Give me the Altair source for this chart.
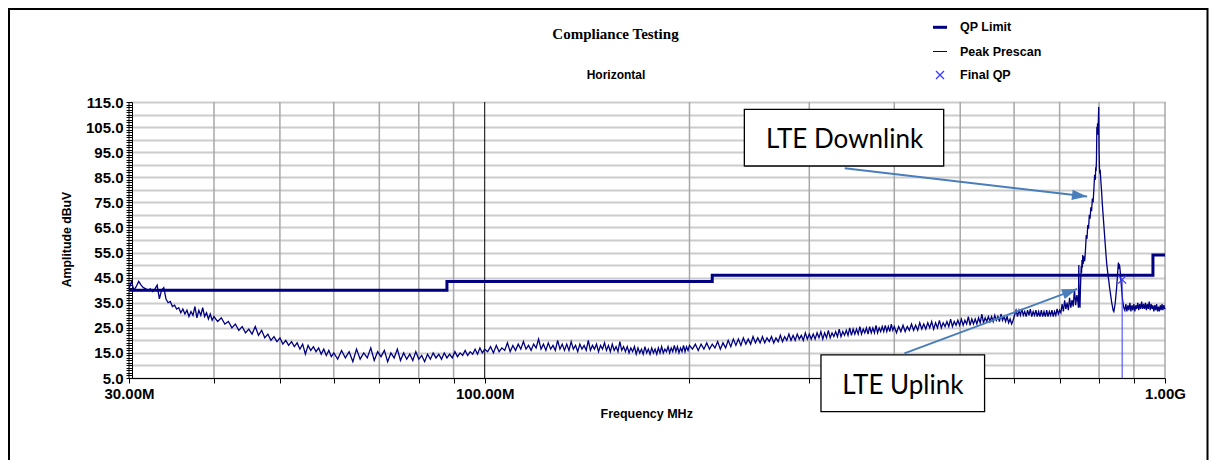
import altair as alt
import pandas as pd

# ---------------- data ----------------
# QP limit (step after each frequency), MHz / dBuV
limit_freq = [30, 88, 216, 960, 1000]
limit_level = [40.0, 43.5, 46.0, 54.0, 54.0]

# Peak prescan sweep, stored per sweep segment: start MHz, step MHz, readings dBuV
seg_a_start, seg_a_step = 30.0, 0.25
seg_a = [40.5, 43.5, 40.0, 41.5, 43.5, 42.0, 41.0, 40.5, 40.0, 40.5,
         39.5, 40.5, 42.0, 36.5, 40.0, 41.0, 36.5, 35.0, 35.5, 33.5,
         34.0, 32.5, 33.0, 31.0, 32.5, 30.5, 32.0, 29.5, 31.5, 30.0,
         33.5, 29.0, 32.0, 30.0, 33.0, 29.5, 31.0, 28.5, 30.5, 28.0,
         29.5]
seg_b_start, seg_b_step = 40.5, 0.5
seg_b = [27.5, 29.0, 26.5, 27.5, 25.0, 26.5, 24.0, 25.5, 23.0, 24.5,
         22.5, 25.5, 22.0, 24.0, 21.0, 22.5, 20.0, 21.5, 19.5, 21.0,
         18.5, 20.0, 18.0, 19.5, 17.5, 19.0, 16.5, 18.5, 14.5, 18.0,
         16.0, 17.5, 15.5, 17.0, 14.5, 16.5, 14.0, 16.0, 13.5, 15.0]
seg_c_start, seg_c_step = 60.8, 0.8
seg_c = [12.5, 16.0, 13.0, 15.5, 11.5, 16.5, 12.5, 15.0, 13.0, 17.0,
         12.0, 15.5, 13.5, 16.0, 11.5, 15.0, 13.0, 16.5, 12.0, 15.0,
         12.5, 14.5, 12.0, 15.5, 12.5, 14.0, 11.5, 14.5, 12.5, 15.0,
         13.0, 14.5, 12.5, 15.0, 13.0, 14.5, 13.0, 15.5, 13.5, 15.0,
         14.0, 16.0, 14.0, 15.5, 14.5, 16.5, 14.5, 17.0, 15.0, 16.5]
seg_d_start, seg_d_step = 101.0, 1.0
seg_d = [15.5, 17.5, 15.0, 18.0, 15.5, 17.0, 16.0, 19.0, 15.5, 18.0,
         16.0, 18.5, 16.5, 19.5, 16.5, 18.0, 16.0, 18.5, 17.0, 20.5,
         16.5, 18.5, 16.0, 19.0, 16.5, 18.0, 16.0, 20.0, 16.5, 18.5,
         16.0, 18.5, 16.0, 19.5, 16.5, 18.0, 15.5, 18.5, 16.5, 18.0,
         16.0, 20.0, 16.0, 18.0, 16.5, 18.5, 15.5, 18.0, 16.5, 19.0,
         16.0, 18.0, 15.5, 18.5, 16.0, 17.5, 15.5, 19.5, 16.0, 17.5,
         15.5, 17.5, 15.0, 17.0, 15.5, 17.5, 14.5, 17.0, 15.0, 16.5,
         14.5, 17.5, 15.0, 16.5, 14.5, 17.0, 15.0, 16.5, 14.5, 17.0,
         15.0, 17.5, 15.0, 16.5, 15.5, 17.5, 15.0, 17.0, 15.5, 18.0,
         15.5, 17.5, 15.0, 17.0, 15.5, 18.0, 15.5, 17.5, 16.0, 18.0]
seg_e_start, seg_e_step = 202.0, 2.0
seg_e = [16.5, 18.5, 16.0, 18.5, 16.5, 19.0, 16.5, 18.5, 17.0, 19.5,
         16.5, 19.0, 17.0, 20.0, 17.5, 20.5, 18.0, 20.5, 18.0, 21.0,
         18.5, 20.5, 18.5, 21.5, 19.0, 21.0, 19.0, 21.5, 19.0, 21.0,
         19.5, 21.5, 19.0, 21.0, 19.5, 22.0, 19.5, 21.5, 20.0, 22.5,
         20.0, 22.0, 20.0, 22.5, 20.5, 22.0, 20.0, 23.0, 20.5, 22.5,
         20.5, 22.5, 20.5, 23.0, 21.0, 23.5, 20.5, 23.0, 21.0, 24.0,
         21.0, 23.0, 21.5, 23.5, 21.5, 24.5, 21.5, 23.5, 22.0, 24.0,
         22.0, 25.0, 22.0, 24.5, 22.5, 24.5, 22.5, 25.5, 22.5, 24.5,
         23.0, 25.0, 22.5, 25.5, 23.0, 25.0, 23.0, 26.0, 23.0, 25.0,
         23.5, 25.5, 23.5, 26.0, 23.5, 25.5, 23.5, 26.5, 24.0, 25.5]
seg_f_start, seg_f_step = 403.0, 3.0
seg_f = [23.0, 25.5, 23.5, 26.0, 23.5, 25.5, 24.0, 26.5, 24.0, 26.0,
         24.0, 27.0, 24.5, 26.5, 24.5, 27.0, 25.0, 27.5, 24.5, 27.0,
         25.0, 28.0, 25.0, 27.0, 25.5, 27.5, 25.5, 28.5, 25.5, 27.5,
         26.0, 28.0, 26.0, 28.5, 26.0, 28.0, 26.5, 29.5, 26.0, 28.5,
         26.5, 28.5, 26.5, 29.0, 27.0, 30.5, 27.0, 29.0, 27.5, 29.5,
         27.5, 29.5, 27.5, 30.0, 28.0, 29.5, 27.5, 30.5, 28.0, 29.5,
         27.5, 29.5, 27.0, 28.5, 26.5, 28.0]
seg_g_start, seg_g_step = 601.0, 3.0
seg_g = [30.0, 32.0, 29.5, 32.0, 30.0, 32.5, 30.0, 31.5, 29.5, 32.0,
         30.0, 32.5, 29.5, 31.5, 30.0, 32.0, 29.5, 31.5, 29.5, 32.0,
         29.5, 31.5, 29.5, 32.0, 29.5, 31.5, 30.0, 32.0, 29.5, 31.5,
         30.0, 32.5, 30.5, 32.0, 31.0, 34.5, 31.5, 36.0, 32.5, 35.0,
         32.0, 37.0, 33.0, 36.0, 33.5, 40.5, 34.0, 38.0, 35.0]
# LTE band, read point by point
seg_h_freq = [746, 747, 748, 749, 750, 751, 752, 753, 754, 755, 756, 757, 758, 760,
              762, 764, 766, 768, 770, 772, 774, 776, 778, 780, 782, 784, 786, 788,
              790, 791, 792, 793, 794, 795, 796, 797, 798, 799, 800, 801, 802, 803,
              805, 807, 809, 811, 813, 815, 817, 819, 821, 823, 825, 827, 829, 831,
              833, 835, 837, 839, 841, 843, 845, 847, 849, 851, 853, 854, 855, 856,
              858, 860, 862, 864, 866, 868, 870]
seg_h = [33.0, 50.0, 33.5, 36.0, 33.0, 40.0, 45.0, 49.5, 47.0, 52.0, 49.0, 54.0, 50.5, 53.5,
         51.5, 56.0, 62.0, 60.5, 66.0, 64.5, 70.0, 68.5, 73.0, 71.5, 76.5, 75.0, 80.0, 86.0,
         84.0, 89.0, 87.5, 92.0, 105.0, 104.0, 106.5, 102.0, 107.0, 113.0, 96.0, 89.0, 86.5, 88.0,
         83.0, 79.0, 74.0, 70.0, 66.0, 62.0, 58.0, 54.0, 50.5, 48.0, 45.5, 43.5, 41.0, 39.0,
         37.0, 35.0, 33.5, 32.0, 31.5, 33.0, 35.0, 38.0, 41.0, 45.0, 49.0, 51.0, 48.5, 50.5,
         49.5, 46.5, 43.0, 39.5, 36.5, 34.5, 33.0]
seg_i_start, seg_i_step = 873.0, 3.0
seg_i = [32.0, 34.5, 31.5, 34.0, 32.0, 35.0, 31.5, 34.0, 32.0, 34.5,
         31.5, 34.0, 32.5, 35.0, 32.0, 34.5, 32.5, 35.5, 32.5, 34.5,
         32.5, 35.0, 32.0, 34.5, 32.5, 35.5, 32.0, 34.5, 32.5, 34.0,
         31.5, 34.0, 32.0, 34.5, 31.5, 33.5, 31.5, 34.0, 32.0, 34.5,
         32.0, 34.0, 32.5]
tail_freq = [1000]
tail = [33.0]

# Final QP result
fqp_freq = [865]
fqp_level = [44.2]

# Callouts (data coordinates: MHz / dBuV)
dl_box = {"f1": 240.8, "f2": 472.8, "a1": 112.1, "a2": 89.5}
dl_text = {"f": 338.1, "a": 96.5, "t": "LTE Downlink"}
dl_arrow = {"f": 338.2, "a": 88.6, "f2": 768.3, "a2": 77.3}
ul_box = {"f1": 312.1, "f2": 543.0, "a1": 14.2, "a2": -8.4}
ul_text = {"f": 411.7, "a": -1.4, "t": "LTE Uplink"}
ul_arrow = {"f": 413.9, "a": 14.8, "f2": 742.8, "a2": 40.5}

x_grid = [30, 40, 50, 60, 70, 80, 90, 100, 200, 300, 400, 500, 600, 700, 800, 900, 1000]
y_ticks = list(range(5, 116))

# ---------------- build tables ----------------
freqs, amps = [], []
for start, step, vals in [(seg_a_start, seg_a_step, seg_a), (seg_b_start, seg_b_step, seg_b),
                          (seg_c_start, seg_c_step, seg_c), (seg_d_start, seg_d_step, seg_d),
                          (seg_e_start, seg_e_step, seg_e), (seg_f_start, seg_f_step, seg_f),
                          (seg_g_start, seg_g_step, seg_g), (seg_i_start, seg_i_step, seg_i)]:
    for i, v in enumerate(vals):
        freqs.append(round(start + i * step, 3))
        amps.append(v)
freqs += seg_h_freq + tail_freq
amps += seg_h + tail
trace_df = pd.DataFrame({"f": freqs, "a": amps}).sort_values("f")
limit_df = pd.DataFrame({"f": limit_freq, "a": limit_level})
fqp_df = pd.DataFrame({"f": fqp_freq, "a": fqp_level, "a0": [5.0]})
grid_df = pd.DataFrame({"f": x_grid})

xs = alt.Scale(type="log", domain=[30, 1000], nice=False)
ys = alt.Scale(domain=[5, 115], nice=False, zero=False)

FONT = "Liberation Sans"
NAVY = "#000080"
BLUE = "#3a3aff"
ARROW = "#4a7ebb"

x_axis = alt.Axis(
    values=x_grid, title=None,
    labelExpr="datum.value == 30 ? '30.00M' : datum.value == 100 ? '100.00M' : datum.value == 1000 ? '1.00G' : ''",
    labelFlush=False, labelOverlap=False, labelFont=FONT, labelFontSize=15,
    labelFontWeight="bold", labelColor="black", labelPadding=3,
    tickSize=5, tickColor="black", tickWidth=1,
    domainColor="black", domainWidth=1,
    grid=False,
)
y_axis = alt.Axis(
    values=y_ticks, title=None,
    labelExpr="datum.value % 10 == 5 ? format(datum.value, '.1f') : ''",
    labelFlush=False, labelOverlap=False, labelFont=FONT, labelFontSize=15,
    labelFontWeight="bold", labelColor="black", labelPadding=3,
    tickSize=6, tickColor="black", tickWidth=1, offset=-3,
    domainColor="black", domainWidth=1,
    grid=True, gridColor="#cccccc", gridWidth=2,
    gridOpacity={"condition": {"test": "datum.value % 5 == 0", "value": 1}, "value": 0},
)


def X(field):
    return alt.X(field, scale=xs, axis=x_axis)


def Y(field):
    return alt.Y(field, scale=ys, axis=y_axis)


one = pd.DataFrame({"k": [0]})


def txt(text, px, py, size, font=FONT, weight="bold", align="center", baseline="middle", angle=0, color="black"):
    return alt.Chart(one).mark_text(
        text=text, font=font, fontSize=size, fontWeight=weight, align=align,
        baseline=baseline, angle=angle, color=color
    ).encode(x=alt.value(px), y=alt.value(py))


def hrule(x1, x2, py, width, color):
    return alt.Chart(one).mark_rule(color=color, strokeWidth=width).encode(
        x=alt.value(x1), x2=alt.value(x2), y=alt.value(py))


dark = "datum.f == 100 || datum.f == 30"
vgrid = alt.Chart(grid_df).mark_rule().encode(
    x=X("f:Q"),
    color=alt.condition(dark, alt.value("#000000"), alt.value("#a8a8a8")),
    strokeWidth=alt.condition(dark, alt.value(1), alt.value(1.5)),
)
trace = alt.Chart(trace_df).mark_line(color=NAVY, strokeWidth=1.3).encode(x=X("f:Q"), y=Y("a:Q"))
limit = alt.Chart(limit_df).mark_line(color=NAVY, strokeWidth=3, interpolate="step-after").encode(
    x=X("f:Q"), y=Y("a:Q"))
stem = alt.Chart(fqp_df).mark_rule(color=BLUE, strokeWidth=1).encode(x=X("f:Q"), y=Y("a0:Q"), y2="a:Q")
XPATH = "M-1,-1L1,1M-1,1L1,-1"
fqp = alt.Chart(fqp_df).mark_point(shape=XPATH, size=64, filled=False, color=BLUE, strokeWidth=1.3,
                                   opacity=1).encode(x=X("f:Q"), y=Y("a:Q"))


def box(d):
    return alt.Chart(pd.DataFrame([d])).mark_rect(fill="white", stroke="black", strokeWidth=1.3).encode(
        x=X("f1:Q"), x2="f2:Q", y=Y("a1:Q"), y2="a2:Q")


def label(d):
    return alt.Chart(pd.DataFrame([d])).mark_text(
        font="Lato", fontSize=26, color="black", align="center", baseline="alphabetic").encode(
        x=X("f:Q"), y=Y("a:Q"), text="t:N")


HEAD = "M0,0L0.75,2.2L-0.75,2.2Z"


def arrow(d, ang):
    df = pd.DataFrame([d])
    line = alt.Chart(df).mark_rule(color=ARROW, strokeWidth=2).encode(
        x=X("f:Q"), x2="f2:Q", y=Y("a:Q"), y2="a2:Q")
    head = alt.Chart(df).mark_point(shape=HEAD, size=190, filled=True, color=ARROW, opacity=1, angle=ang).encode(
        x=X("f2:Q"), y=Y("a2:Q"))
    return [line, head]


frame = alt.Chart(one).mark_rect(fill="white", fillOpacity=0, stroke="black", strokeWidth=2).encode(
    x=alt.value(-120), x2=alt.value(1078.5), y=alt.value(-93), y2=alt.value(400))

layers = [vgrid, trace, limit, stem, fqp]
layers += arrow(dl_arrow, 96.7) + arrow(ul_arrow, 69.6)
layers += [box(dl_box), label(dl_text), box(ul_box), label(ul_text)]
layers += [
    frame,
    txt("Compliance Testing", 486.5, -68.5, 15, font="Liberation Serif"),
    txt("Horizontal", 487, -27, 12),
    hrule(804, 818, -74.7, 3, NAVY),
    hrule(804, 818, -50.5, 1, NAVY),
    txt("QP Limit", 831, -74.7, 12.5, align="left"),
    txt("Peak Prescan", 831, -50.5, 12.5, align="left"),
    txt("Final QP", 831, -27, 12.5, align="left"),
    alt.Chart(one).mark_point(shape=XPATH, size=64, filled=False, color=BLUE, strokeWidth=1.3, opacity=1).encode(
        x=alt.value(811), y=alt.value(-27)),
    txt("Amplitude dBuV", -62.3, 137.5, 12.3, angle=270),
    txt("Frequency MHz", 517.7, 312, 12.5),
]

chart = alt.layer(*layers).properties(
    width=1036, height=276,
    autosize=alt.AutoSizeParams(type="none"),
    padding={"left": 121, "top": 94, "right": 44, "bottom": 82},
    background="white",
).configure_view(strokeWidth=0)

chart.save("out.html", embed_options={"renderer": "svg", "actions": False})
